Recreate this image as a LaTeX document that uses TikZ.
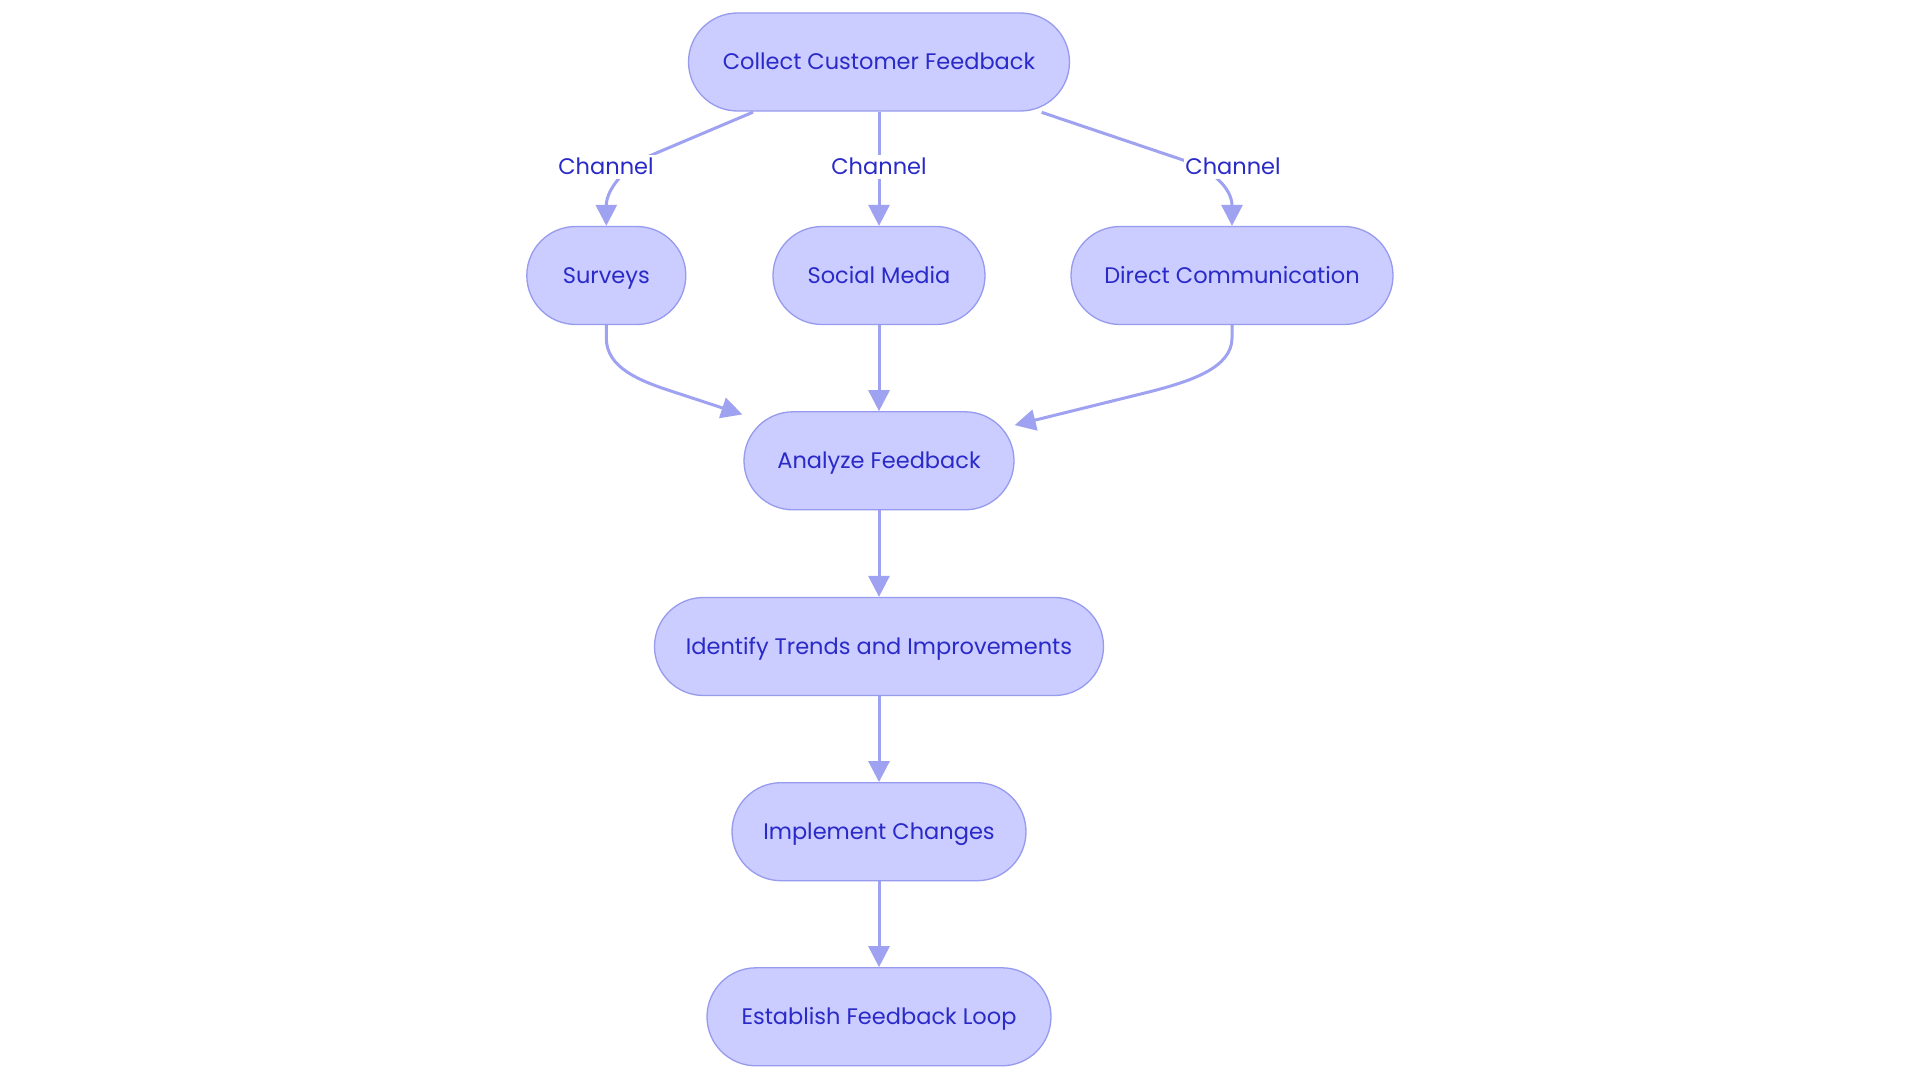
\documentclass[tikz,border=0pt]{standalone}
\usepackage{fontspec}
\setmainfont{Poppins}
\usetikzlibrary{arrows.meta,calc}
\definecolor{nodefill}{RGB}{203,204,255}
\definecolor{nodeline}{RGB}{150,155,238}
\definecolor{edgecol}{RGB}{158,162,240}
\definecolor{txtcol}{RGB}{42,42,200}
\pgfdeclarelayer{back}
\pgfdeclarelayer{bg}
\pgfsetlayers{back,bg,main}
\tikzset{
  stadium/.style={draw=nodeline, fill=nodefill, line width=1.3pt, rounded corners=49pt,
    minimum height=98pt, inner sep=0pt, text=txtcol, text height=15.7pt, text depth=0pt,
    font=\fontsize{22.5}{27}\selectfont},
  edge/.style={draw=edgecol, line width=3pt, -{Triangle[length=21pt,width=21pt]}},
  elabel/.style={fill=white, text=txtcol, inner xsep=1pt, inner ysep=4pt, text height=15.7pt, text depth=0pt,
    font=\fontsize{22.5}{27}\selectfont}
}
\begin{document}
\begin{tikzpicture}[x=1pt,y=-1pt]
\begin{pgfonlayer}{back}
\fill[white] (0,0) rectangle (1920,1083);
\end{pgfonlayer}
\useasboundingbox (0,0) rectangle (1920,1083);
\node[stadium, minimum width=381pt] (c)  at (879,62)    {Collect Customer Feedback};
\node[stadium, minimum width=159pt] (s)  at (606.3,275.5) {Surveys};
\node[stadium, minimum width=212pt] (sm) at (879,275.5) {Social Media};
\node[stadium, minimum width=322pt] (d)  at (1232,275.5) {Direct Communication};
\node[stadium, minimum width=270pt] (a)  at (879,460.8) {Analyze Feedback};
\node[stadium, minimum width=449pt] (i)  at (879,646.5) {Identify Trends and Improvements};
\node[stadium, minimum width=294pt] (im) at (879,831.7) {Implement Changes};
\node[stadium, minimum width=344pt] (e)  at (879,1016.8) {Establish Feedback Loop};

\node[elabel] (l1) at (606,167) {Channel};
\node[elabel] (l2) at (879,167) {Channel};
\node[elabel] (l3) at (1233,167) {Channel};

\begin{pgfonlayer}{bg}
\draw[edge] ($(c.south)+(-126,0.5)$) -- (651.7,155) .. controls (624,166.8) and (606.3,190) .. (s.north);
\draw[edge] (c.south) -- (sm.north);
\draw[edge] ($(c.south)+(162.7,0.7)$) -- (1185,160.7) .. controls (1215,171) and (1232,190) .. (d.north);
\draw[edge] (s.south) -- (606.3,338) .. controls (606.3,368) and (640,381) .. (673,391.7) -- ($(a.north west)+(-1,3.3)$);
\draw[edge] (sm.south) -- (a.north);
\draw[edge] (d.south) -- (1232,338) .. controls (1232,368) and (1190,381.4) .. (1150,391.7) -- ($(a.north east)+(0,14)$);
\draw[edge] (a.south) -- (i.north);
\draw[edge] (i.south) -- (im.north);
\draw[edge] (im.south) -- (e.north);
\end{pgfonlayer}
\end{tikzpicture}
\end{document}
